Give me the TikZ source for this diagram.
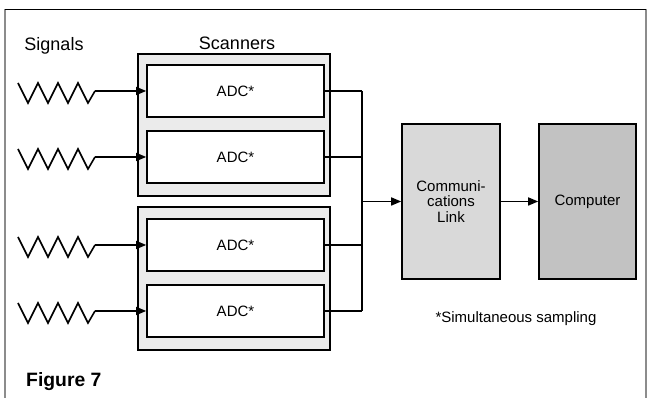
\documentclass[tikz,border=0pt]{standalone}
\usepackage{fontspec}
\setmainfont{Liberation Sans}
\usetikzlibrary{arrows.meta}

\tikzset{
	adcbox/.style={draw, line width=1.2pt, fill=white, minimum width=132.75pt,
		minimum height=39pt, inner sep=0pt, font=\fontsize{11.25}{13.5}\selectfont},
	scanbox/.style={draw, line width=1.2pt, fill=black!8, minimum width=144pt,
		inner sep=0pt},
	bigbox/.style={draw, line width=1.2pt, minimum height=116.25pt, inner sep=0pt,
		align=center, font=\fontsize{11.25}{11.6}\selectfont},
	label/.style={font=\fontsize{13.5}{16}\selectfont, anchor=base}
}

\begin{document}
\begin{tikzpicture}[x=0.75pt, y=-0.75pt, line width=1.2pt,
		>={Triangle[length=7.5pt, width=6pt]}]
	\useasboundingbox (0,0) rectangle (647,398);

	% frame, open at the bottom
	\draw[black!45, line width=0.9pt] (5,398) -- (5,9.5) -- (646,9.5) -- (646,398);
	\draw[line width=1.3pt] (5,9.5) -- (646,9.5);

	\node[label] (signals) at (54,50.5) {Signals};
	\node[label] (scanners) at (237,50) {Scanners};

	% the two scanners
	\node[scanbox, minimum height=106.5pt] (scan1) at (234,125) {};
	\node[scanbox, minimum height=107.25pt] (scan2) at (234,278.5) {};

	\foreach \i/\y in {1/91, 2/157, 3/245, 4/311} {
		\node[adcbox] (adc\i) at (235.5,\y) {ADC*};
		% signal zigzag
		\draw[line join=miter] (18,\y-8) -- ++(10,20) -- ++(10,-20)
			-- ++(10,20) -- ++(10,-20) -- ++(10,20) -- ++(10,-20)
			-- ++(10,20) -- ++(7,-12) coordinate (sig\i);
		\draw[->] (sig\i) -- (adc\i);
		\coordinate (bus\i) at (362,\y);
		\draw (adc\i.east) -- (bus\i);
	}

	\node[bigbox, fill=black!15, minimum width=73.5pt] (link) at (451,201.5)
		{Communi-\\cations\\Link};
	\node[bigbox, fill=black!24, minimum width=72.75pt] (computer) at (587.5,201.5)
		{Computer};

	\draw (bus1) -- (bus4);
	\draw[->] (bus1 |- link.west) -- (link.west);
	\draw[->] (link) -- (computer);

	\node[font=\fontsize{11.25}{13.5}\selectfont, anchor=base] (note) at (516,322.5)
		{*Simultaneous sampling};
	\node[font=\fontsize{14.5}{17}\selectfont\bfseries, anchor=base west] (fig)
		at (21,387) {Figure 7};
\end{tikzpicture}
\end{document}
